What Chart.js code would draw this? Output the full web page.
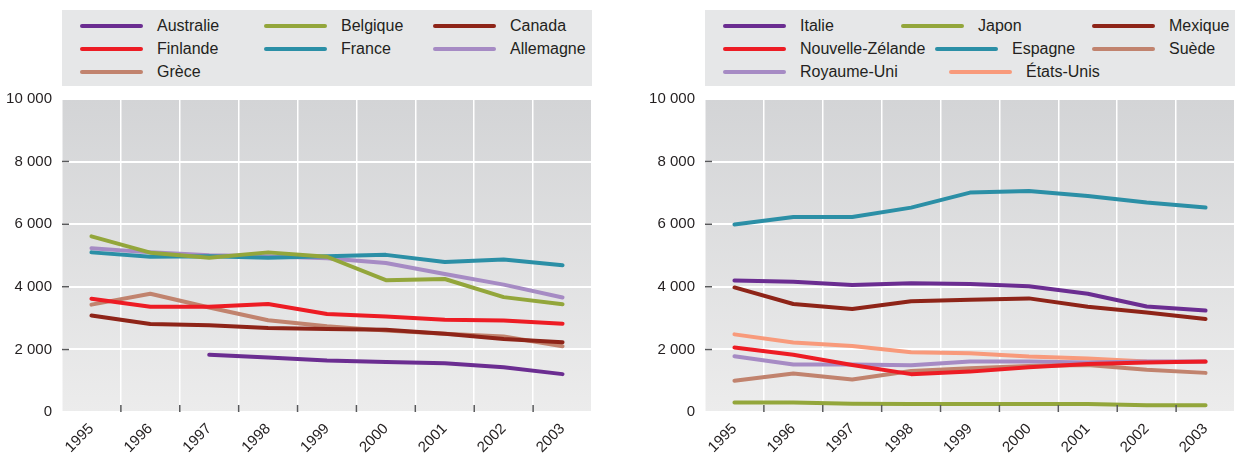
<!DOCTYPE html>
<html>
<head>
<meta charset="utf-8">
<script src="https://cdn.jsdelivr.net/npm/chart.js@4.4.1/dist/chart.umd.min.js"></script>
<style>
  body { margin: 0; background: #fff; width: 1241px; height: 457px; position: relative; overflow: hidden;
         font-family: 'Liberation Sans', Arial, sans-serif; color: #231f20; }
  canvas { position: absolute; top: 80px; }
  #c1 { left: 0; }
  #c2 { left: 620px; }
  .legend { position: absolute; top: 10px; height: 76px; background: #e6e7e8; }
  .item { position: absolute; height: 20px; line-height: 20px; font-size: 16px; white-space: nowrap; }
  .item span.ln { position: absolute; left: 0; top: 8px; width: 63px; height: 4px; border-radius: 2px; }
  .item span.tx { position: absolute; left: 77px; top: 0; }
</style>
</head>
<body>
<div id="leg1" class="legend" style="left:62px;width:530px"></div>
<div id="leg2" class="legend" style="left:705px;width:530px"></div>
<canvas id="c1" width="620" height="377"></canvas>
<canvas id="c2" width="621" height="377"></canvas>
<script>
const annees = ["1995", "1996", "1997", "1998", "1999", "2000", "2001", "2002", "2003"];
const ticksY = [0, 2000, 4000, 6000, 8000, 10000];

// graphique de gauche
const paysGauche = ["Australie", "Belgique", "Canada", "Finlande", "France", "Allemagne", "Grèce"];
const australie = [null, null, 1830, 1740, 1645, 1600, 1560, 1430, 1210];
const belgique = [5610, 5090, 4930, 5100, 4960, 4210, 4250, 3670, 3440];
const canada = [3080, 2810, 2770, 2680, 2650, 2630, 2500, 2330, 2230];
const finlande = [3620, 3360, 3360, 3450, 3130, 3050, 2950, 2920, 2820];
const france = [5100, 4960, 4980, 4930, 4980, 5020, 4790, 4870, 4690];
const allemagne = [5235, 5100, 5010, 4980, 4910, 4760, 4410, 4070, 3660];
const grece = [3430, 3780, 3340, 2930, 2740, 2600, 2500, 2410, 2100];

// graphique de droite
const paysDroite = ["Italie", "Japon", "Mexique", "Nouvelle-Zélande", "Espagne", "Suède", "Royaume-Uni", "États-Unis"];
const italie = [4200, 4160, 4060, 4110, 4090, 4020, 3780, 3370, 3240];
const japon = [300, 300, 260, 255, 255, 255, 255, 215, 215];
const mexique = [3980, 3450, 3290, 3540, 3590, 3630, 3360, 3180, 2970];
const nouvelleZelande = [2060, 1830, 1500, 1210, 1290, 1430, 1530, 1580, 1610];
const espagne = [5990, 6230, 6230, 6530, 7010, 7060, 6900, 6690, 6530];
const suede = [995, 1230, 1040, 1310, 1400, 1470, 1500, 1350, 1250];
const royaumeUni = [1780, 1520, 1520, 1490, 1610, 1610, 1580, 1610, 1610];
const etatsUnis = [2480, 2220, 2110, 1910, 1880, 1770, 1710, 1610, 1600];

const couleursGauche = ["#6b2d91", "#93a63b", "#8e2418", "#ed1c24", "#2b8fa6", "#a68bc4", "#c1836e"];
const couleursDroite = ["#6b2d91", "#93a63b", "#8e2418", "#ed1c24", "#2b8fa6", "#c1836e", "#a68bc4", "#f89a7b"];

// positions de la légende (x relatif à la page, rangées)
const rangees = [25, 48, 71];
const posLegGauche = [[80, 0], [264, 0], [433, 0], [80, 1], [264, 1], [433, 1], [80, 2]];
const posLegDroite = [[723, 0], [901, 0], [1092, 0], [723, 1], [935, 1], [1092, 1], [723, 2], [949, 2]];

Chart.defaults.font.family = "'Liberation Sans', Arial, sans-serif";
Chart.defaults.font.size = 15;
Chart.defaults.color = "#231f20";

const fondPlugin = {
  id: "fond",
  beforeDraw(chart) {
    const { ctx, chartArea: a } = chart;
    const g = ctx.createLinearGradient(0, a.top, 0, a.bottom);
    g.addColorStop(0, "#d3d4d6");
    g.addColorStop(1, "#ececec");
    ctx.save();
    ctx.fillStyle = g;
    ctx.fillRect(a.left, a.top, a.right - a.left, a.bottom - a.top);
    ctx.restore();
  },
  afterDatasetsDraw(chart) {
    const { ctx, chartArea: a, scales } = chart;
    ctx.save();
    ctx.strokeStyle = "#58595b";
    ctx.lineWidth = 1.5;
    ctx.beginPath();
    for (let i = 1; i < annees.length; i++) {
      const x = (scales.x.getPixelForValue(i - 1) + scales.x.getPixelForValue(i)) / 2;
      ctx.moveTo(x, a.bottom - 7);
      ctx.lineTo(x, a.bottom);
    }
    for (let i = 1; i < ticksY.length - 1; i++) {
      const y = scales.y.getPixelForValue(ticksY[i]);
      ctx.moveTo(a.left, y);
      ctx.lineTo(a.left + 7, y);
    }
    ctx.stroke();
    ctx.restore();
  }
};

function formater(v) {
  return v >= 1000 ? Math.floor(v / 1000) + " 000" : String(v);
}

function creer(id, noms, series, couleurs, largeurY, padDroite) {
  return new Chart(document.getElementById(id), {
    type: "line",
    data: {
      labels: annees,
      datasets: series.map((s, i) => ({
        label: noms[i],
        data: s,
        borderColor: couleurs[i],
        backgroundColor: couleurs[i],
        borderWidth: 4,
        pointRadius: 0,
        tension: 0,
        borderCapStyle: "round",
        borderJoinStyle: "round"
      }))
    },
    options: {
      responsive: false,
      animation: false,
      layout: { padding: { top: 3, right: padDroite, left: 0, bottom: 0 } },
      plugins: { legend: { display: false }, tooltip: { enabled: false } },
      scales: {
        x: {
          offset: true,
          grid: { offset: true, color: "#ffffff", lineWidth: 1.5, drawTicks: false },
          border: { display: false },
          ticks: { maxRotation: 45, minRotation: 45, autoSkip: false, padding: 8 },
          afterFit(scale) { scale.height = 45; }
        },
        y: {
          min: 0,
          max: 10000,
          afterBuildTicks(scale) { scale.ticks = ticksY.map(v => ({ value: v })); },
          grid: { color: "#ffffff", lineWidth: 2, drawTicks: false },
          border: { display: false },
          ticks: { padding: 10, callback: v => formater(v) },
          afterFit(scale) { scale.width = largeurY; }
        }
      }
    },
    plugins: [fondPlugin]
  });
}

function legende(id, noms, couleurs, pos, gauche) {
  const box = document.getElementById(id);
  noms.forEach((n, i) => {
    const d = document.createElement("div");
    d.className = "item";
    d.style.left = (pos[i][0] - gauche) + "px";
    d.style.top = (rangees[pos[i][1]] - 10 - 9) + "px";
    d.innerHTML = '<span class="ln" style="background:' + couleurs[i] + '"></span><span class="tx">' + n + "</span>";
    box.appendChild(d);
  });
}

creer("c1", paysGauche, [australie, belgique, canada, finlande, france, allemagne, grece], couleursGauche, 62, 28);
creer("c2", paysDroite, [italie, japon, mexique, nouvelleZelande, espagne, suede, royaumeUni, etatsUnis], couleursDroite, 85, 6);
legende("leg1", paysGauche, couleursGauche, posLegGauche, 62);
legende("leg2", paysDroite, couleursDroite, posLegDroite, 705);
</script>
</body>
</html>
